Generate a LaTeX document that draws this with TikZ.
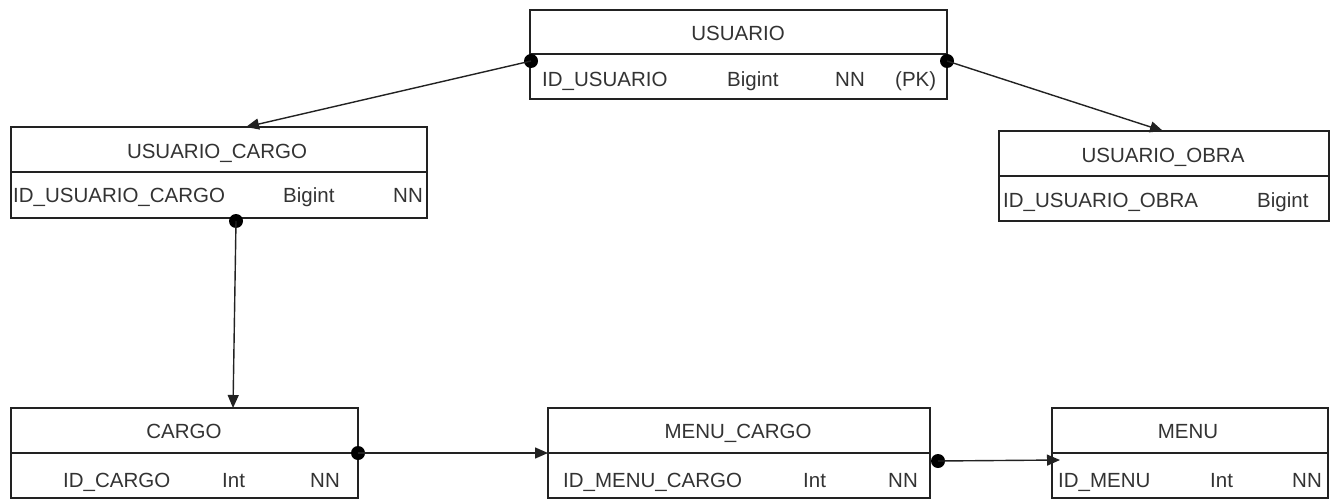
\documentclass[tikz,border=0pt]{standalone}
\usepackage{fontspec}
\setmainfont{Liberation Sans}
\usetikzlibrary{arrows.meta}
\definecolor{linec}{HTML}{222222}
\definecolor{txtc}{HTML}{333333}
\tikzset{
  tbl/.style={draw=linec, line width=1.4pt, inner sep=0pt, outer sep=0pt, anchor=north west},
  divline/.style={draw=linec, line width=1.4pt},
  txt/.style={font=\fontsize{20.5}{24}\selectfont, text=txtc, inner sep=0pt, anchor=base west},
  ttl/.style={txt, anchor=base},
  conn/.style={draw=linec, line width=1.4pt, -{Triangle[length=13pt,width=11pt]}},
  dotnode/.style={circle, fill=black, inner sep=0pt, minimum size=14pt},
}
\begin{document}
\begin{tikzpicture}[x=1pt,y=-1pt]
\useasboundingbox[fill=white] (0,0) rectangle (1340,500);

% USUARIO
\node[tbl, minimum width=417pt, minimum height=89pt] (usuario) at (530,10) {};
\draw[divline] (530,54) -- (947,54);
\node[ttl] (usuarioT) at (738,41) {USUARIO};
\node[txt] (usuarioA) at (542,87) {ID\_USUARIO};
\node[txt] (usuarioB) at (727,87) {Bigint};
\node[txt] (usuarioC) at (835,87) {NN};
\node[txt] (usuarioD) at (895,87) {(PK)};

% USUARIO_CARGO
\node[tbl, minimum width=416pt, minimum height=91pt] (ucargo) at (11,127) {};
\draw[divline] (11,172) -- (427,172);
\node[ttl] (ucargoT) at (217,158) {USUARIO\_CARGO};
\node[txt] (ucargoA) at (13,202) {ID\_USUARIO\_CARGO};
\node[txt] (ucargoB) at (283,202) {Bigint};
\node[txt] (ucargoC) at (393,202) {NN};

% USUARIO_OBRA
\node[tbl, minimum width=330pt, minimum height=90pt] (uobra) at (999,131) {};
\draw[divline] (999,176) -- (1329,176);
\node[ttl] (uobraT) at (1163,162) {USUARIO\_OBRA};
\node[txt] (uobraA) at (1003,207) {ID\_USUARIO\_OBRA};
\node[txt] (uobraB) at (1257,207) {Bigint};

% CARGO
\node[tbl, minimum width=347pt, minimum height=90pt] (cargo) at (11,408) {};
\draw[divline] (11,453) -- (358,453);
\node[ttl] (cargoT) at (184,438) {CARGO};
\node[txt] (cargoA) at (63,487) {ID\_CARGO};
\node[txt] (cargoB) at (222,487) {Int};
\node[txt] (cargoC) at (310,487) {NN};

% MENU_CARGO
\node[tbl, minimum width=382pt, minimum height=90pt] (mcargo) at (548,408) {};
\draw[divline] (548,453) -- (930,453);
\node[ttl] (mcargoT) at (738,438) {MENU\_CARGO};
\node[txt] (mcargoA) at (563,487) {ID\_MENU\_CARGO};
\node[txt] (mcargoB) at (803,487) {Int};
\node[txt] (mcargoC) at (888,487) {NN};

% MENU
\node[tbl, minimum width=276pt, minimum height=90pt] (menu) at (1052,408) {};
\draw[divline] (1052,453) -- (1328,453);
\node[ttl] (menuT) at (1188,438) {MENU};
\node[txt] (menuA) at (1058,487) {ID\_MENU};
\node[txt] (menuB) at (1210,487) {Int};
\node[txt] (menuC) at (1292,487) {NN};

% connector ends
\node[dotnode] (d1) at (531,61) {};
\node[dotnode] (d2) at (947,61) {};
\node[dotnode] (d3) at (236,221) {};
\node[dotnode] (d4) at (358,453) {};
\node[dotnode] (d5) at (938,461) {};
\coordinate (t1) at (246,127);
\coordinate (t2) at (1163,131);
\coordinate (t3) at (233,408);
\coordinate (t4) at (548,453);
\coordinate (t5) at (1060,460);

\draw[conn] (d1.center) -- (t1);
\draw[conn] (d2.center) -- (t2);
\draw[conn] (d3.center) -- (t3);
\draw[conn] (d4.center) -- (t4);
\draw[conn] (d5.center) -- (t5);
\end{tikzpicture}
\end{document}
